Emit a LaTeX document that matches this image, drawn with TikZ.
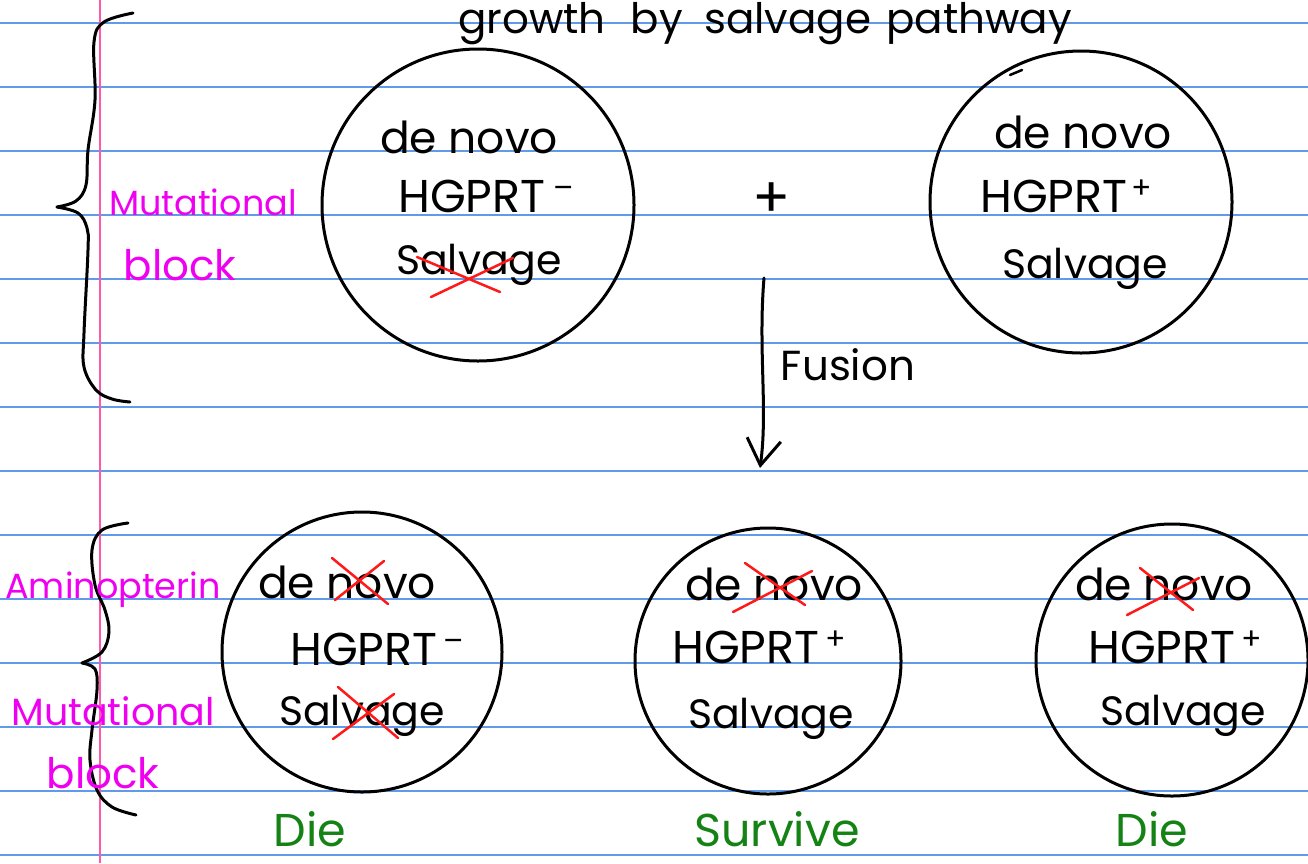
\documentclass[tikz,border=0pt]{standalone}
\usepackage{fontspec}
\setmainfont{Poppins}
\usetikzlibrary{arrows.meta}
\definecolor{rulecol}{RGB}{95,155,232}
\definecolor{margincol}{RGB}{255,90,170}
\definecolor{magcol}{RGB}{240,0,240}
\definecolor{grncol}{RGB}{20,130,20}
\definecolor{xredcol}{RGB}{255,25,25}
\newcommand\hsup[1]{\raisebox{14pt}{\fontsize{30}{30}\selectfont #1}}
\begin{document}
\begin{tikzpicture}[x=1pt,y=-1pt,
  pen/.style={line width=3pt, line cap=round, line join=round, black},
  cell/.style={circle, draw, line width=3pt, inner sep=0pt},
  txt/.style={inner sep=0pt, anchor=base, font=\fontsize{44}{48}\selectfont},
  salv/.style={inner sep=0pt, anchor=base, font=\fontsize{41}{44}\selectfont},
  txtw/.style={inner sep=0pt, anchor=base west, font=\fontsize{46}{48}\selectfont},
  magtxt/.style={inner sep=0pt, anchor=base, text=magcol, font=\fontsize{35}{38}\selectfont},
  grntxt/.style={inner sep=0pt, anchor=base, text=grncol, font=\fontsize{46}{50}\selectfont},
  cross/.style={xredcol, line width=2.5pt, line cap=round}]
\useasboundingbox (0,0) rectangle (1308,863);
\fill[white] (0,0) rectangle (1308,863);
% ruled paper
\foreach \k in {0,...,13} \draw[rulecol, line width=1.6pt] (0,{23+64*\k}) -- (1308,{23+64*\k});
\draw[margincol, line width=2pt] (100,0) -- (100,863);

% title
\node[txt, font=\fontsize{42}{46}\selectfont] (title) at (765,33) {growth\hspace{14pt} by\hspace{10pt} salvage\hspace{4pt} pathway};

% top braces
\draw[pen] plot[smooth, tension=0.6] coordinates {(133,13) (104,22) (94,42) (95,100) (88,150) (86,185) (76,201) (57,207)};
\draw[pen] plot[smooth, tension=0.6] coordinates {(57,207) (78,213) (87,228) (88,250) (84,333) (84,367) (96,390) (112,399) (130,402)};
\node[magtxt] (mut1) at (203,215) {Mutational};
\node[magtxt, font=\fontsize{42}{44}\selectfont] (blk1) at (180,280) {block};

% top cells
\node[cell, minimum size=312pt] (c1) at (478,205) {};
\node[txt] (c1a) at (469,153) {de novo};
\node[txtw] (c1b) at (398,212) {HGPRT\hspace{8pt}\hsup{–}};
\node[salv] (c1c) at (479,274) {Salvage};
\draw[cross] (417,257) -- (500,292);
\draw[cross] (431,297) -- (513,258);

\node[font=\fontsize{56}{56}\selectfont, inner sep=0pt] (plus) at (772,200) {+};

\node[cell, minimum size=302pt] (c2) at (1081,202) {};
\node[txt] (c2a) at (1083,148) {de novo};
\node[txtw] (c2b) at (980,212) {HGPRT\hspace{4pt}\hsup{+}};
\node[salv] (c2c) at (1085,278) {Salvage};
\draw[pen, line width=2.5pt] (1010,75) -- (1022,70);

% fusion arrow
\coordinate (fA) at (764,278);
\coordinate (fB) at (760,468);
\draw[pen, -{Straight Barb[length=26pt,width=34pt]}] (fA) .. controls (758,350) and (768,410) .. (fB);
\node[inner sep=0pt, anchor=base, font=\fontsize{42}{44}\selectfont] (fus) at (848,380) {Fusion};

% bottom brace and labels
\draw[pen] plot[smooth, tension=0.6] coordinates {(128,523) (102,530) (92,550) (95,585) (105,610) (109,632) (102,652) (82,663)};
\draw[pen] plot[smooth, tension=0.6] coordinates {(82,663) (95,669) (97,690) (92,730) (90,760) (97,790) (112,807) (136,815)};
\node[magtxt] (amino) at (113,598) {Aminopterin};
\node[magtxt, font=\fontsize{38}{42}\selectfont] (mut2) at (113,725) {Mutational};
\node[magtxt, font=\fontsize{42}{44}\selectfont] (blk2) at (103,788) {block};

% bottom cells
\node[cell, minimum size=280pt] (c3) at (362,652) {};
\node[txt] (c3a) at (347,598) {de novo};
\node[txtw] (c3b) at (290,665) {HGPRT\hspace{6pt}\hsup{–}};
\node[salv] (c3c) at (362,725) {Salvage};
\draw[cross] (332,558) -- (388,604);
\draw[cross] (335,600) -- (384,561);
\draw[cross] (338,687) -- (398,738);
\draw[cross] (333,739) -- (394,694);

\node[cell, minimum size=266pt] (c4) at (768,661) {};
\node[txt] (c4a) at (774,600) {de novo};
\node[txtw] (c4b) at (672,663) {HGPRT\hspace{6pt}\hsup{+}};
\node[salv] (c4c) at (771,728) {Salvage};
\draw[cross] (745,563) -- (805,605);
\draw[cross] (733,612) -- (812,571);

\node[cell, minimum size=272pt] (c5) at (1172,660) {};
\node[txt] (c5a) at (1164,600) {de novo};
\node[txtw] (c5b) at (1088,663) {HGPRT\hspace{6pt}\hsup{+}};
\node[salv] (c5c) at (1183,725) {Salvage};
\draw[cross] (1140,568) -- (1193,610);
\draw[cross] (1127,615) -- (1199,578);

% outcomes
\node[grntxt] (die1) at (310,846) {Die};
\node[grntxt] (surv) at (777,846) {Survive};
\node[grntxt] (die2) at (1152,846) {Die};
\end{tikzpicture}
\end{document}
